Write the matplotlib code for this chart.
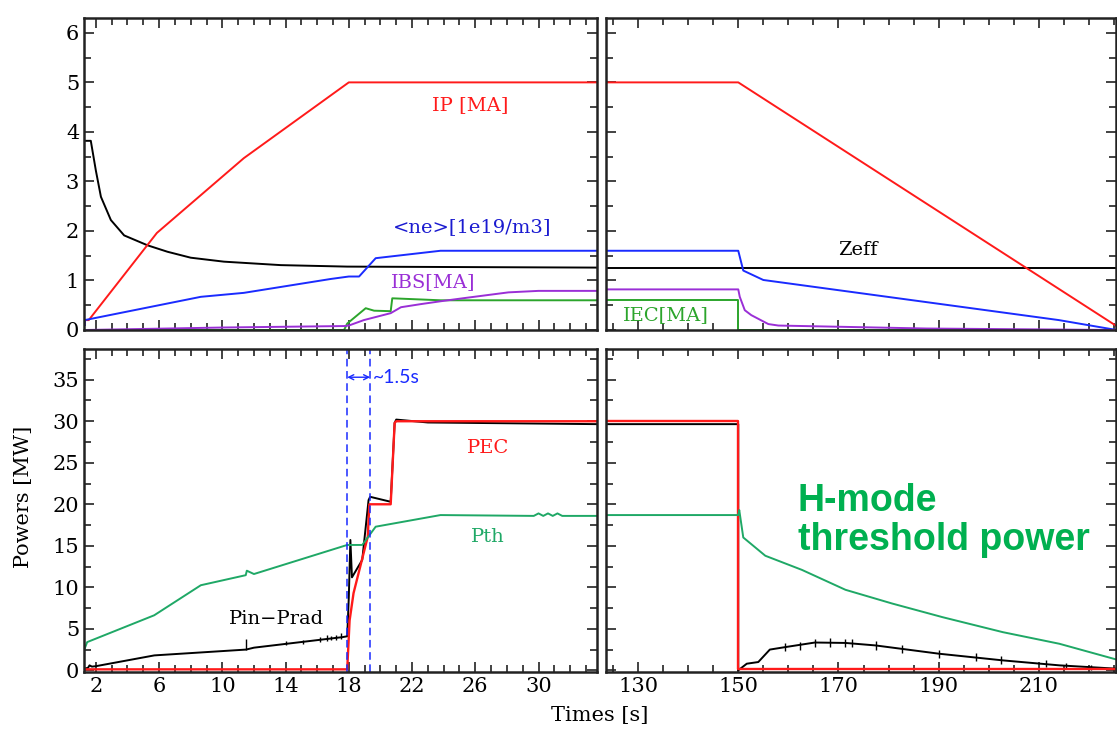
import numpy as np
import matplotlib
matplotlib.use("Agg")
import matplotlib.pyplot as plt
from matplotlib.ticker import FixedLocator, MultipleLocator

# ---------------- top panels: IP, <ne>, Zeff, IBS, IEC ----------------
ip_t1 = [1.3, 1.3, 1.55, 5.86, 11.36, 18.0, 33.7]
ip_v1 = [0.1, 0.2, 0.2, 1.96, 3.47, 5.0, 5.0]
ip_t2 = [123.5, 150.0, 225.5]
ip_v2 = [5.0, 5.0, 0.08]

zeff_t1 = [1.3, 1.68, 2.0, 2.32, 2.95, 3.79, 5.27, 6.53, 8.0, 10.1, 13.7, 17.9, 33.7]
zeff_v1 = [3.82, 3.82, 3.22, 2.69, 2.22, 1.91, 1.71, 1.58, 1.46, 1.38, 1.31, 1.28, 1.26]
zeff_t2 = [123.5, 225.5]
zeff_v2 = [1.26, 1.26]

ne_t1 = [1.3, 1.3, 8.64, 11.36, 16.85, 18.0, 18.65, 19.7, 23.8, 33.7]
ne_v1 = [0.1, 0.2, 0.67, 0.75, 1.03, 1.08, 1.08, 1.45, 1.60, 1.60]
ne_t2 = [123.5, 150.0, 151.0, 155.0, 214.0, 225.5]
ne_v2 = [1.6, 1.6, 1.2, 1.01, 0.2, 0.0]

ibs_t1 = [1.3, 10.0, 17.7, 18.0, 18.95, 20.65, 21.3, 22.5, 23.8, 25.2, 28.1, 30.0, 33.7]
ibs_v1 = [0.0, 0.05, 0.08, 0.09, 0.2, 0.34, 0.46, 0.52, 0.58, 0.64, 0.76, 0.79, 0.79]
ibs_t2 = [123.5, 150.0, 150.3, 151.3, 152.6, 154.3, 156.0, 158.0, 187.6, 225.5]
ibs_v2 = [0.82, 0.82, 0.67, 0.40, 0.30, 0.21, 0.12, 0.09, 0.03, 0.0]

iec_t1 = [1.3, 17.7, 17.9, 19.07, 19.6, 20.65, 20.75, 23.8, 33.7]
iec_v1 = [0.0, 0.0, 0.13, 0.44, 0.39, 0.38, 0.64, 0.60, 0.60]
iec_t2 = [123.5, 150.0, 150.0, 225.5]
iec_v2 = [0.6, 0.6, 0.0, 0.0]

# ---------------- bottom panels: powers [MW] ----------------
pth_t1 = [1.25, 1.45, 5.69, 8.64, 11.48, 11.55, 12.0, 17.9, 18.85, 19.7, 23.8,
          29.7, 30.0, 30.3, 30.6, 30.9, 31.2, 31.5, 33.7]
pth_v1 = [2.4, 3.4, 6.63, 10.25, 11.46, 12.0, 11.6, 15.1, 15.1, 17.3, 18.7,
          18.6, 18.9, 18.6, 18.9, 18.6, 18.9, 18.6, 18.6]
pth_t2 = [123.5, 150.0, 150.2, 151.0, 155.4, 162.7, 171.4, 180.7, 190.8, 202.8, 214.1, 225.5]
pth_v2 = [18.7, 18.7, 19.3, 16.0, 13.8, 12.1, 9.7, 8.05, 6.4, 4.6, 3.2, 1.3]

pec_t1 = [1.25, 17.9, 18.05, 18.3, 19.2, 19.3, 20.65, 20.9, 21.0, 33.7]
pec_v1 = [0.12, 0.12, 6.0, 9.3, 16.1, 20.0, 20.0, 29.8, 30.0, 30.0]
pec_t2 = [123.5, 150.0, 150.0, 225.5]
pec_v2 = [30.0, 30.0, 0.12, 0.12]

pin_t1 = [1.25, 1.5, 1.6, 1.75, 2.0, 5.7, 11.5, 12.0, 17.6, 17.9, 18.0, 18.1, 18.2,
          18.85, 19.25, 19.35, 20.65, 20.9, 21.0, 23.0, 33.7]
pin_v1 = [0.2, 0.3, 0.6, 0.45, 0.5, 1.8, 2.5, 2.73, 4.0, 4.1, 8.8, 15.7, 11.2,
          13.3, 20.5, 20.9, 20.3, 29.8, 30.2, 29.85, 29.65]
pin_t2 = [123.5, 150.0, 150.0, 151.7, 154.0, 156.3, 159.4, 165.3, 171.4,
          177.4, 190.1, 202.8, 214.1, 225.5]
pin_v2 = [29.65, 29.65, 0.0, 0.8, 1.0, 2.5, 2.8, 3.35, 3.3, 3.0, 2.0, 1.2, 0.6, 0.2]

# small spikes on Pin-Prad
spk_t1 = [11.5, 14.0, 15.1, 16.2, 16.6, 16.9, 17.2, 17.5]
spk_lo1 = [2.5, 3.0, 3.2, 3.4, 3.5, 3.6, 3.7, 3.8]
spk_hi1 = [3.75, 3.5, 3.7, 4.0, 4.3, 4.1, 4.3, 4.5]
spk_t2 = [159.4, 162.4, 165.3, 168.3, 171.4, 172.7, 177.4, 182.7, 190.1,
          197.4, 202.5, 211.5, 215.4, 220.5]
spk_lo2 = [2.3, 2.45, 2.8, 2.85, 2.8, 2.8, 2.5, 2.1, 1.5, 1.1, 0.8, 0.4, 0.25, 0.1]
spk_hi2 = [3.3, 3.45, 3.8, 3.85, 3.8, 3.8, 3.5, 3.1, 2.5, 2.1, 1.7, 1.2, 0.9, 0.6]

xt_left = [2, 6, 10, 14, 18, 22, 26, 30]
xt_right = [130, 150, 170, 190, 210]
t_lh = [17.9, 19.35]   # L-H transition window (~1.5s)

RED = '#ff1a1a'
BLUE = '#1a2bff'
PURPLE = '#9a2fd6'
GREEN_TOP = '#2ca52c'
GREEN_PTH = '#1fa866'
SERIF = 'DejaVu Serif'

plt.rcParams['font.family'] = SERIF

fig = plt.figure(figsize=(11.17, 7.29), dpi=100)
W, H = 1117.0, 729.0
def box(l, t, r, b):
    return [l / W, 1 - b / H, (r - l) / W, (b - t) / H]

ax_tl = fig.add_axes(box(84, 18, 597, 330))
ax_tr = fig.add_axes(box(606, 18, 1116, 330))
ax_bl = fig.add_axes(box(84, 349, 597, 672))
ax_br = fig.add_axes(box(606, 349, 1116, 672))


def style(ax, left, top):
    for s in ax.spines.values():
        s.set_linewidth(1.8)
        s.set_color('#222222')
    ax.tick_params(which='both', direction='in', top=True, right=True,
                   labelsize=15, width=1.2, color='#222222')
    ax.tick_params(which='major', length=7)
    ax.tick_params(which='minor', length=5)
    if left:
        ax.set_xlim(1.25, 33.7)
        ax.xaxis.set_major_locator(FixedLocator(xt_left))
        ax.xaxis.set_minor_locator(MultipleLocator(1))
    else:
        ax.set_xlim(123.6, 225.4)
        ax.xaxis.set_major_locator(FixedLocator(xt_right))
        ax.xaxis.set_minor_locator(MultipleLocator(5))
        ax.tick_params(labelleft=False)
    if top:
        ax.set_ylim(0, 6.3)
        ax.yaxis.set_major_locator(MultipleLocator(1))
        ax.yaxis.set_minor_locator(MultipleLocator(0.5))
        ax.tick_params(labelbottom=False)
    else:
        ax.set_ylim(-0.2, 38.7)
        ax.yaxis.set_major_locator(MultipleLocator(5))
        ax.yaxis.set_minor_locator(MultipleLocator(2.5))


lw = 1.4
# top left
ax_tl.plot(zeff_t1, zeff_v1, color='black', lw=lw)
ax_tl.plot(ip_t1, ip_v1, color=RED, lw=lw)
ax_tl.plot(ne_t1, ne_v1, color=BLUE, lw=lw)
ax_tl.plot(iec_t1, iec_v1, color=GREEN_TOP, lw=lw)
ax_tl.plot(ibs_t1, ibs_v1, color=PURPLE, lw=lw)
# top right
ax_tr.plot(zeff_t2, zeff_v2, color='black', lw=lw)
ax_tr.plot(ip_t2, ip_v2, color=RED, lw=lw)
ax_tr.plot(ne_t2, ne_v2, color=BLUE, lw=lw)
ax_tr.plot(iec_t2, iec_v2, color=GREEN_TOP, lw=lw)
ax_tr.plot(ibs_t2, ibs_v2, color=PURPLE, lw=lw)

# bottom left
ax_bl.plot(pin_t1, pin_v1, color='black', lw=lw)
ax_bl.vlines(spk_t1, spk_lo1, spk_hi1, color='black', lw=1.0)
ax_bl.plot(pec_t1, pec_v1, color=RED, lw=lw + 0.3)
ax_bl.plot(pth_t1, pth_v1, color=GREEN_PTH, lw=lw)
# bottom right
ax_br.plot(pin_t2, pin_v2, color='black', lw=lw)
ax_br.vlines(spk_t2, spk_lo2, spk_hi2, color='black', lw=1.0)
ax_br.plot(pec_t2, pec_v2, color=RED, lw=lw + 0.3)
ax_br.plot(pth_t2, pth_v2, color=GREEN_PTH, lw=lw)

for t in t_lh:
    ax_bl.axvline(t, color=BLUE, lw=1.1, ls=(0, (5, 3)))
ax_bl.annotate('', xy=(t_lh[0], 35.3), xytext=(t_lh[1], 35.3),
               arrowprops=dict(arrowstyle='<->', color=BLUE, lw=1.0,
                               shrinkA=0, shrinkB=0, mutation_scale=9))
ax_bl.text(19.55, 35.3, '~1.5s', color=BLUE, fontsize=14, family='Lato',
           ha='left', va='center')

for ax, l, t in [(ax_tl, True, True), (ax_tr, False, True),
                 (ax_bl, True, False), (ax_br, False, False)]:
    style(ax, l, t)

# series labels
fs = 14
ax_tl.text(25.7, 4.55, 'IP [MA]', color=RED, fontsize=fs, ha='center', va='center')
ax_tl.text(25.8, 2.08, '<ne>[1e19/m3]', color='#1a1ad0', fontsize=fs, ha='center', va='center')
ax_tl.text(23.35, 0.97, 'IBS[MA]', color=PURPLE, fontsize=fs, ha='center', va='center')
ax_tr.text(173.9, 1.61, 'Zeff', color='black', fontsize=fs, ha='center', va='center')
ax_tr.text(135.6, 0.30, 'IEC[MA]', color=GREEN_TOP, fontsize=fs, ha='center', va='center')
ax_bl.text(26.8, 26.75, 'PEC', color=RED, fontsize=fs, ha='center', va='center')
ax_bl.text(26.8, 16.1, 'Pth', color=GREEN_PTH, fontsize=fs, ha='center', va='center')
ax_bl.text(13.4, 6.24, 'Pin\u2212Prad', color='black', fontsize=fs, ha='center', va='center')

ax_br.text(161.9, 18.0, 'H-mode\nthreshold power', color='#00b050', fontsize=27,
           fontweight='bold', family='Liberation Sans', ha='left', va='center',
           linespacing=1.1)

fig.text(0.537, 0.019, 'Times [s]', fontsize=15, ha='center', va='center')
fig.text(0.021, 0.318, 'Powers [MW]', fontsize=15, ha='center', va='center', rotation=90)

fig.savefig('out.png', dpi=100)
